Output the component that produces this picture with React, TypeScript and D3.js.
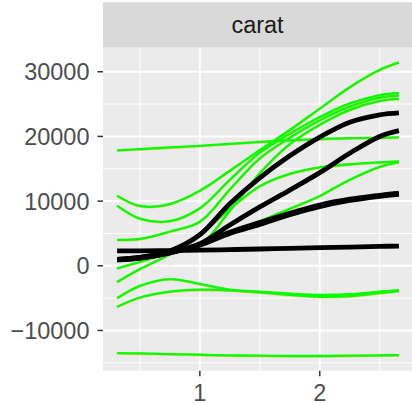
import React from "react";
import * as d3 from "d3";

const carat = [0.31, 0.5, 0.75, 1.0, 1.25, 1.5, 1.75, 2.0, 2.25, 2.5, 2.66];

const greenSeries: number[][] = [
  [17850, 18050, 18300, 18550, 18850, 19150, 19400, 19600, 19750, 19800, 19850],
  [10850, 9250, 9550, 11600, 14700, 17900, 21000, 24300, 27600, 30300, 31450],
  [9300, 7300, 6900, 8900, 13300, 17500, 20400, 23000, 25100, 26400, 26700],
  [4000, 4150, 5300, 6800, 11800, 16600, 19800, 22500, 24600, 26000, 26330],
  [-400, 600, 2000, 3200, 8500, 14300, 18800, 21800, 24100, 25500, 25820],
  [-2520, -500, 1800, 4800, 8800, 12300, 14200, 15200, 15700, 16000, 16130],
  [1200, 1300, 2000, 3300, 5000, 6900, 8800, 10800, 13300, 15300, 16030],
  [-5000, -3100, -2050, -2800, -3700, -4100, -4500, -4800, -4700, -4200, -3900],
  [-6340, -4900, -4000, -3700, -3800, -4000, -4300, -4500, -4400, -4000, -3760],
  [-13500, -13550, -13650, -13750, -13850, -13900, -13950, -13950, -13900, -13850, -13800],
];

const blackSeries: number[][] = [
  [2300, 2320, 2350, 2420, 2500, 2600, 2700, 2800, 2900, 3000, 3050],
  [1000, 1300, 2300, 4800, 9600, 13600, 17000, 19900, 22200, 23350, 23650],
  [900, 1200, 2000, 3400, 6300, 9100, 11700, 14400, 17400, 20000, 20900],
  [900, 1200, 2000, 3300, 5200, 6700, 8100, 9400, 10300, 10900, 11250],
  [1000, 1300, 2100, 3200, 5000, 6400, 7900, 9150, 10100, 10750, 11050],
];

const yTicks = [-10000, 0, 10000, 20000, 30000];
const yMinor = [-15000, -5000, 5000, 15000, 25000];
const xTicks = [1, 2];
const xMinor = [0.5, 1.5, 2.5];
const stripLabel = "carat";

const W = 412;
const H = 404;
const panel = { left: 103, right: 413, top: 47.7, bottom: 370.7 };
const stripTop = 2.3;

export default function App() {
  const xExt = d3.extent(carat) as [number, number];
  const xPad = (xExt[1] - xExt[0]) * 0.05;
  const x = d3
    .scaleLinear()
    .domain([xExt[0] - xPad, xExt[1] + xPad])
    .range([panel.left, panel.right]);

  const all = [...greenSeries, ...blackSeries].flat();
  const yExt = d3.extent(all) as [number, number];
  const yPad = (yExt[1] - yExt[0]) * 0.05;
  const y = d3
    .scaleLinear()
    .domain([yExt[0] - yPad, yExt[1] + yPad])
    .range([panel.bottom, panel.top]);

  const line = d3
    .line<number>()
    .x((_, i) => x(carat[i]))
    .y((d) => y(d))
    .curve(d3.curveCatmullRom.alpha(0.5));

  const font = "'Liberation Sans', Arial, Helvetica, sans-serif";

  return (
    <svg
      width={W}
      height={H}
      style={{ position: "absolute", left: 0, top: 0, display: "block" }}
    >
      <rect x={0} y={0} width={W} height={H} fill="#FFFFFF" />
      <defs>
        <clipPath id="panelClip">
          <rect
            x={panel.left}
            y={panel.top}
            width={panel.right - panel.left}
            height={panel.bottom - panel.top}
          />
        </clipPath>
      </defs>
      <rect
        x={panel.left}
        y={stripTop}
        width={panel.right - panel.left}
        height={panel.top - stripTop}
        fill="#D9D9D9"
      />
      <text
        x={(panel.left + 412) / 2}
        y={(stripTop + panel.top) / 2}
        dy="0.35em"
        textAnchor="middle"
        fontFamily={font}
        fontSize={23.5}
        fill="#1A1A1A"
      >
        {stripLabel}
      </text>
      <rect
        x={panel.left}
        y={panel.top}
        width={panel.right - panel.left}
        height={panel.bottom - panel.top}
        fill="#EBEBEB"
      />
      <g clipPath="url(#panelClip)">
        {yMinor.map((v) => (
          <line
            key={"ym" + v}
            x1={panel.left}
            x2={panel.right}
            y1={y(v)}
            y2={y(v)}
            stroke="#FFFFFF"
            strokeWidth={1}
          />
        ))}
        {xMinor.map((v) => (
          <line
            key={"xm" + v}
            x1={x(v)}
            x2={x(v)}
            y1={panel.top}
            y2={panel.bottom}
            stroke="#FFFFFF"
            strokeWidth={1}
          />
        ))}
        {yTicks.map((v) => (
          <line
            key={"yM" + v}
            x1={panel.left}
            x2={panel.right}
            y1={y(v)}
            y2={y(v)}
            stroke="#FFFFFF"
            strokeWidth={2}
          />
        ))}
        {xTicks.map((v) => (
          <line
            key={"xM" + v}
            x1={x(v)}
            x2={x(v)}
            y1={panel.top}
            y2={panel.bottom}
            stroke="#FFFFFF"
            strokeWidth={2}
          />
        ))}
        {greenSeries.map((s, i) => (
          <path
            key={"go" + i}
            d={line(s) || ""}
            fill="none"
            stroke="#FFA500"
            strokeWidth={2.6}
            strokeOpacity={0.5}
            transform="translate(0,0.4)"
          />
        ))}
        {greenSeries.map((s, i) => (
          <path
            key={"g" + i}
            d={line(s) || ""}
            fill="none"
            stroke="#00FF00"
            strokeWidth={2.3}
            strokeLinecap="butt"
          />
        ))}
        {blackSeries.map((s, i) => (
          <path
            key={"b" + i}
            d={line(s) || ""}
            fill="none"
            stroke="#000000"
            strokeWidth={4.8}
            strokeLinecap="butt"
          />
        ))}
      </g>
      {yTicks.map((v) => (
        <g key={"yt" + v}>
          <line
            x1={panel.left - 5.5}
            x2={panel.left}
            y1={y(v)}
            y2={y(v)}
            stroke="#333333"
            strokeWidth={1.5}
          />
          <text
            x={panel.left - 13.5}
            y={y(v)}
            dy="0.36em"
            textAnchor="end"
            fontFamily={font}
            fontSize={23.5}
            fill="#4D4D4D"
          >
            {v < 0 ? "\u2212" + Math.abs(v) : String(v)}
          </text>
        </g>
      ))}
      {xTicks.map((v) => (
        <g key={"xt" + v}>
          <line
            x1={x(v)}
            x2={x(v)}
            y1={panel.bottom}
            y2={panel.bottom + 5.5}
            stroke="#333333"
            strokeWidth={1.5}
          />
          <text
            x={x(v)}
            y={panel.bottom + 30.5}
            textAnchor="middle"
            fontFamily={font}
            fontSize={23.5}
            fill="#4D4D4D"
          >
            {String(v)}
          </text>
        </g>
      ))}
    </svg>
  );
}
